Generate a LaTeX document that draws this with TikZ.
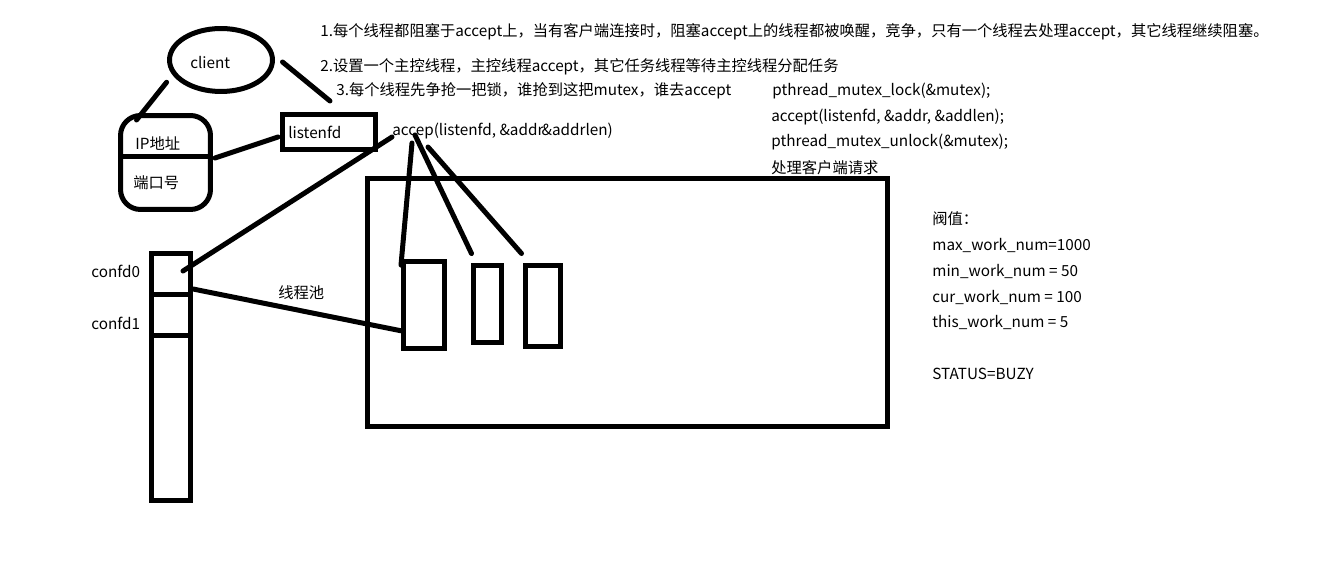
\documentclass[tikz,border=0pt]{standalone}
\usepackage{fontspec}
\setmainfont{Noto Sans CJK SC}
\usetikzlibrary{shapes.geometric,positioning}
\tikzset{
  box/.style={draw, line width=0.1cm, inner sep=0pt, outer sep=0pt},
  conn/.style={line width=0.1cm, line cap=round},
  txt/.style={anchor=west, inner sep=0pt, font=\fontsize{8.7}{10}\selectfont},
}
\begin{document}
\begin{tikzpicture}[x=0.02cm, y=-0.02cm]
\fill[white] (0,0) rectangle (1341,577);
\useasboundingbox (0,0) rectangle (1341,577);

%% notes
\node[txt] (note1) at (320,32) {1.每个线程都阻塞于accept上，当有客户端连接时，阻塞accept上的线程都被唤醒，竞争，只有一个线程去处理accept，其它线程继续阻塞。};
\node[txt] (note2) at (320,67) {2.设置一个主控线程，主控线程accept，其它任务线程等待主控线程分配任务};
\node[txt] (note3) at (336,91) {3.每个线程先争抢一把锁，谁抢到这把mutex，谁去accept};

%% code
\node[txt] (lock)   at (772,91)  {pthread\_mutex\_lock(\&mutex);};
\node[txt] (accept) at (771,117) {accept(listenfd, \&addr, \&addlen);};
\node[txt] (unlock) at (771,142) {pthread\_mutex\_unlock(\&mutex);};
\node[txt] (handle) at (771,168) {处理客户端请求};

%% thresholds
\node[txt] (thr)    at (932,219) {阀值：};
\node[txt] (maxnum) at (932,245) {max\_work\_num=1000};
\node[txt] (minnum) at (932,271) {min\_work\_num = 50};
\node[txt] (curnum) at (932,297) {cur\_work\_num = 100};
\node[txt] (thisnum) at (932,322) {this\_work\_num = 5};
\node[txt] (status) at (932,374) {STATUS=BUZY};

%% client and socket
\node[box, ellipse, minimum width=2.06cm, minimum height=1.26cm] (client) at (221,60) {};
\node[txt] at (190,63) {client};
\node[box, rounded corners=0.4cm, minimum width=1.8cm, minimum height=1.88cm] (addr) at (165.5,162.5) {};
\draw[box] ([shift={(0,-5.5)}]addr.west) -- ([shift={(0,-5.5)}]addr.east);
\node[txt] at (135,144) {IP地址};
\node[txt] at (133,183) {端口号};
\node[box, minimum width=1.86cm, minimum height=0.7cm] (listenfd) at (329,132) {};
\node[txt] at (288,132) {listenfd};
\node[txt] (accep) at (392,131) {accep(listenfd, \&addr\kern-0.12em\&addrlen)};

%% thread pool
\node[box, minimum width=10.4cm, minimum height=4.96cm] (pool) at (627.5,302.5) {};
\node[box, minimum width=0.82cm, minimum height=1.73cm] (thread1) at (423.5,304.8) {};
\node[box, minimum width=0.56cm, minimum height=1.54cm] (thread2) at (487.5,304) {};
\node[box, minimum width=0.7cm, minimum height=1.62cm] (thread3) at (543,306) {};
\node[txt] at (278,293) {线程池};

%% connection fds
\node[box, minimum width=0.78cm, minimum height=0.84cm] (confd0) at (171,274) {};
\node[box, minimum width=0.78cm, minimum height=0.82cm, below=0pt of confd0] (confd1) {};
\node[box, minimum width=0.78cm, minimum height=3.29cm, below=0pt of confd1] (confdrest) {};
\node[txt] at (91,271) {confd0};
\node[txt] at (91,323) {confd1};

%% connectors
\draw[conn] ([shift={(-18,0)}]client.south west) -- ([shift={(16,4.5)}]addr.north west);
\draw[conn] ([shift={(10,2)}]client.east) -- ([shift={(1,-13.5)}]listenfd.north);
\draw[conn] ([shift={(4.5,-4.5)}]addr.east) -- ([shift={(-4.5,5)}]listenfd.west);
\draw[conn] ([shift={(0,6)}]accep.west) -- ([shift={(12,-3)}]confd0.center);
\draw[conn] ([shift={(2.5,-6)}]confd0.south east) -- ([shift={(-2,26)}]thread1.west);
\draw[conn] ([shift={(20,12)}]accep.west) -- ([shift={(-2,3.5)}]thread1.north west);
\draw[conn] ([shift={(23,4)}]accep.west) -- ([shift={(-2,-12)}]thread2.north west);
\draw[conn] ([shift={(36,16)}]accep.west) -- ([shift={(-4,-12)}]thread3.north west);
\end{tikzpicture}
\end{document}
